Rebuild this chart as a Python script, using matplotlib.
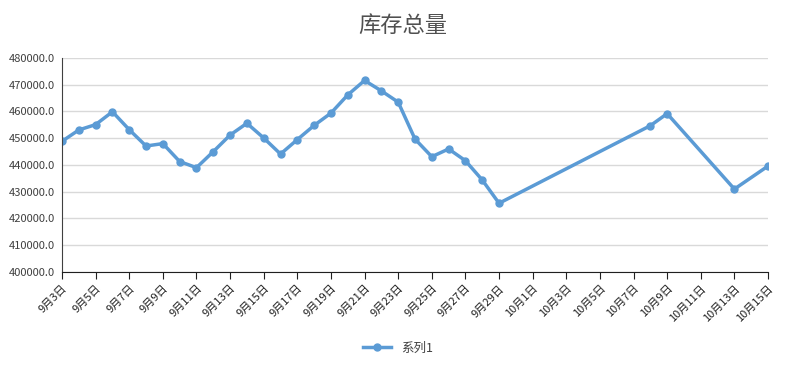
import datetime as dt
import numpy as np
import matplotlib
matplotlib.use('Agg')
import matplotlib.pyplot as plt
import matplotlib.dates as mdates
from matplotlib.ticker import FuncFormatter

plt.rcParams['font.family'] = ['Noto Sans CJK SC', 'DejaVu Sans']

# data
dates = ['09-03', '09-04', '09-05', '09-06', '09-07', '09-08', '09-09', '09-10',
         '09-11', '09-12', '09-13', '09-14', '09-15', '09-16', '09-17', '09-18',
         '09-19', '09-20', '09-21', '09-22', '09-23', '09-24', '09-25', '09-26',
         '09-27', '09-28', '09-29', '10-08', '10-09', '10-13', '10-15']
stock = [448850, 453100, 455100, 459900, 453200, 447100, 448000, 441300,
         439000, 445000, 451200, 455600, 450100, 444100, 449500, 454800,
         459400, 466200, 471600, 467700, 463500, 449700, 443100, 446000,
         441600, 434400, 425700, 454700, 459200, 431000, 439600]
series_name = '系列1'
title = '库存总量'

x = [dt.datetime.strptime('2020-' + d, '%Y-%m-%d') for d in dates]
blue = '#5B9BD5'

fig = plt.figure(figsize=(7.86, 3.69), dpi=100)
ax = fig.add_axes([62 / 786, 1 - 272 / 369, 706 / 786, 214 / 369])

ax.plot(x, stock, color=blue, lw=2.5, marker='o', ms=5, label=series_name)

ax.set_ylim(400000, 480000)
ax.set_yticks(np.arange(400000, 480001, 10000))
ax.yaxis.set_major_formatter(FuncFormatter(lambda v, p: '%.1f' % v))
ax.set_xlim(dt.datetime(2020, 9, 3), dt.datetime(2020, 10, 15))
ticks = [dt.datetime(2020, 9, 3) + dt.timedelta(days=2 * i) for i in range(22)]
ax.set_xticks(ticks)
ax.xaxis.set_major_formatter(FuncFormatter(
    lambda v, p: '%d月%d日' % (mdates.num2date(v).month, mdates.num2date(v).day)))

ax.grid(axis='y', color='#d9d9d9', lw=1)
ax.set_axisbelow(True)
for s in ['top', 'right']:
    ax.spines[s].set_visible(False)
ax.spines['left'].set_color('#404040')
ax.spines['bottom'].set_color('#202020')
ax.tick_params(axis='y', length=0, labelsize=8, labelcolor='#404040', pad=5)
ax.tick_params(axis='x', length=5, direction='out', color='#202020',
               labelsize=8, labelcolor='#202020', pad=3)
for lab in ax.get_xticklabels():
    lab.set_rotation(45)
    lab.set_ha('right')
    lab.set_rotation_mode('anchor')

fig.text(403 / 786, 1 - 25 / 369, title, ha='center', va='center',
         fontsize=16, color='#505050')

fig.legend(loc='center', bbox_to_anchor=(398 / 786, 1 - 348 / 369), frameon=False,
           fontsize=9, handlelength=2.2, labelcolor='#404040')

fig.savefig('out.png', dpi=100)
